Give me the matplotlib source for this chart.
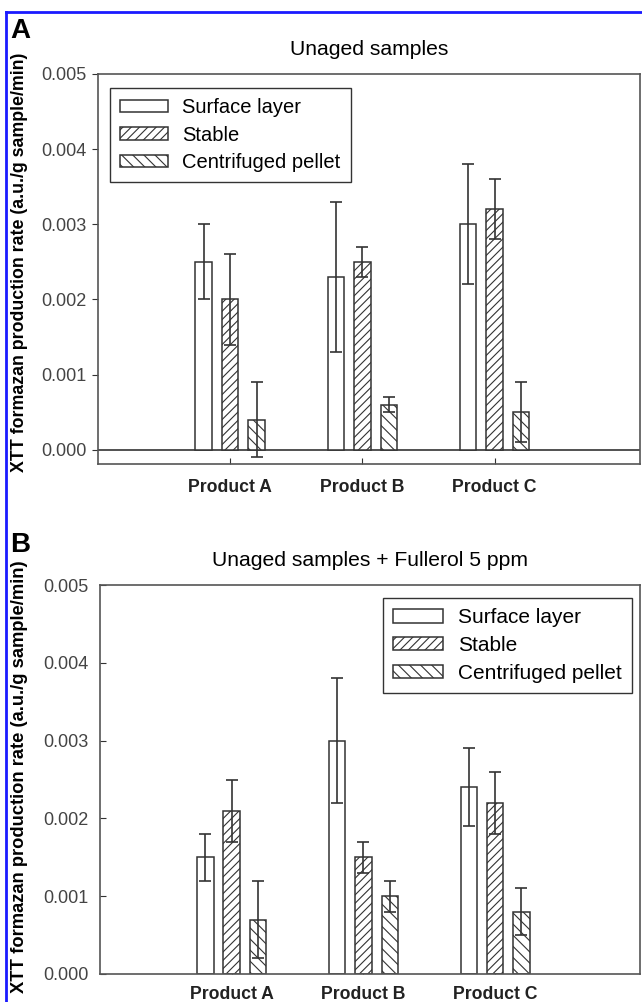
import numpy as np
import matplotlib
matplotlib.use('Agg')
import matplotlib.pyplot as plt
from matplotlib.lines import Line2D

plt.rcParams["font.family"] = ["Liberation Sans", "DejaVu Sans"]
plt.rcParams["hatch.linewidth"] = 0.8

products = ["Product A", "Product B", "Product C"]
series = ["Surface layer", "Stable", "Centrifuged pellet"]
hatches = ["", "////", "\\\\\\"]

# panel A: unaged samples
a_surface = [0.0025, 0.0023, 0.0030]
a_surface_err = [0.0005, 0.0010, 0.0008]
a_stable = [0.0020, 0.0025, 0.0032]
a_stable_err = [0.0006, 0.0002, 0.0004]
a_pellet = [0.0004, 0.0006, 0.0005]
a_pellet_err = [0.0005, 0.0001, 0.0004]

# panel B: unaged samples + fullerol 5 ppm
b_surface = [0.0015, 0.0030, 0.0024]
b_surface_err = [0.0003, 0.0008, 0.0005]
b_stable = [0.0021, 0.0015, 0.0022]
b_stable_err = [0.0004, 0.0002, 0.0004]
b_pellet = [0.0007, 0.0010, 0.0008]
b_pellet_err = [0.0005, 0.0002, 0.0003]

yticks = [0.000, 0.001, 0.002, 0.003, 0.004, 0.005]
lc = '#333333'


def draw_panel(ax, vals, errs, title, legend_anchor, legend_loc, ymin, tickdir,
               ypad, xpad, legsize):
    x = np.arange(1, len(products) + 1)
    width = 0.125
    offsets = [-0.2, 0.0, 0.2]
    for i in range(3):
        ax.bar(x + offsets[i], vals[i], width, color='white', edgecolor=lc,
               hatch=hatches[i], linewidth=1.1, label=series[i], zorder=2)
        ax.errorbar(x + offsets[i], vals[i], yerr=errs[i], fmt='none',
                    ecolor=lc, elinewidth=1.2, capsize=4.5, capthick=1.2, zorder=3)
    ax.set_xlim(0, 4.1)
    ax.set_ylim(ymin, 0.005)
    ax.set_yticks(yticks)
    ax.set_yticklabels([f"{t:.3f}" for t in yticks], fontsize=13, color='#444444')
    ax.set_xticks(x)
    ax.set_xticklabels(products, fontsize=12.7, fontweight='bold', color='#222222')
    ax.tick_params(axis='x', direction='in', length=4, color=lc, pad=xpad)
    ax.tick_params(axis='y', direction=tickdir, length=4, color=lc, pad=ypad)
    for s in ax.spines.values():
        s.set_color('#555555')
        s.set_linewidth(1.2)
    if ymin < 0:
        ax.axhline(0, color=lc, lw=1.2, zorder=1)
    ax.set_title(title, fontsize=15.2, pad=14)
    leg = ax.legend(loc=legend_loc, bbox_to_anchor=legend_anchor, borderaxespad=0,
                    fontsize=legsize, fancybox=False, edgecolor=lc, framealpha=1,
                    handlelength=2.4, handleheight=0.6, handletextpad=0.7,
                    labelspacing=0.42, borderpad=0.5)
    leg.get_frame().set_linewidth(1.0)


fig = plt.figure(figsize=(6.42, 10.02), dpi=100)
axA = fig.add_axes([98 / 642, 1 - 464 / 1002, 542 / 642, 390 / 1002])
axB = fig.add_axes([100 / 642, 1 - 974 / 1002, 540 / 642, 389 / 1002])

draw_panel(axA, [a_surface, a_stable, a_pellet],
           [a_surface_err, a_stable_err, a_pellet_err],
           "Unaged samples", (0.022, 0.964), 'upper left', -0.00019, 'out',
           4.5, 10.5, 14.5)
draw_panel(axB, [b_surface, b_stable, b_pellet],
           [b_surface_err, b_stable_err, b_pellet_err],
           "Unaged samples + Fullerol 5 ppm", (0.985, 0.967), 'upper right', 0.0, 'in',
           8, 8.5, 15)

ylab = "XTT formazan production rate (a.u./g sample/min)"
fig.text(20 / 642, 1 - 262 / 1002, ylab, rotation=90, ha='center', va='center',
         fontsize=12.8, fontweight='bold')
fig.text(20 / 642, 1 - 777 / 1002, ylab, rotation=90, ha='center', va='center',
         fontsize=13.2, fontweight='bold')

fig.text(10 / 642, 1 - 38 / 1002, "A", fontsize=20, fontweight='bold', ha='left', va='baseline')
fig.text(10 / 642, 1 - 552 / 1002, "B", fontsize=20, fontweight='bold', ha='left', va='baseline')

# blue frame on top and left
fig.add_artist(Line2D([6 / 642, 6 / 642], [0, 1 - 12 / 1002], color='#1a1aff', lw=2,
                      transform=fig.transFigure))
fig.add_artist(Line2D([6 / 642, 1], [1 - 12 / 1002, 1 - 12 / 1002], color='#1a1aff', lw=2,
                      transform=fig.transFigure))

fig.savefig("out.png", dpi=100)
